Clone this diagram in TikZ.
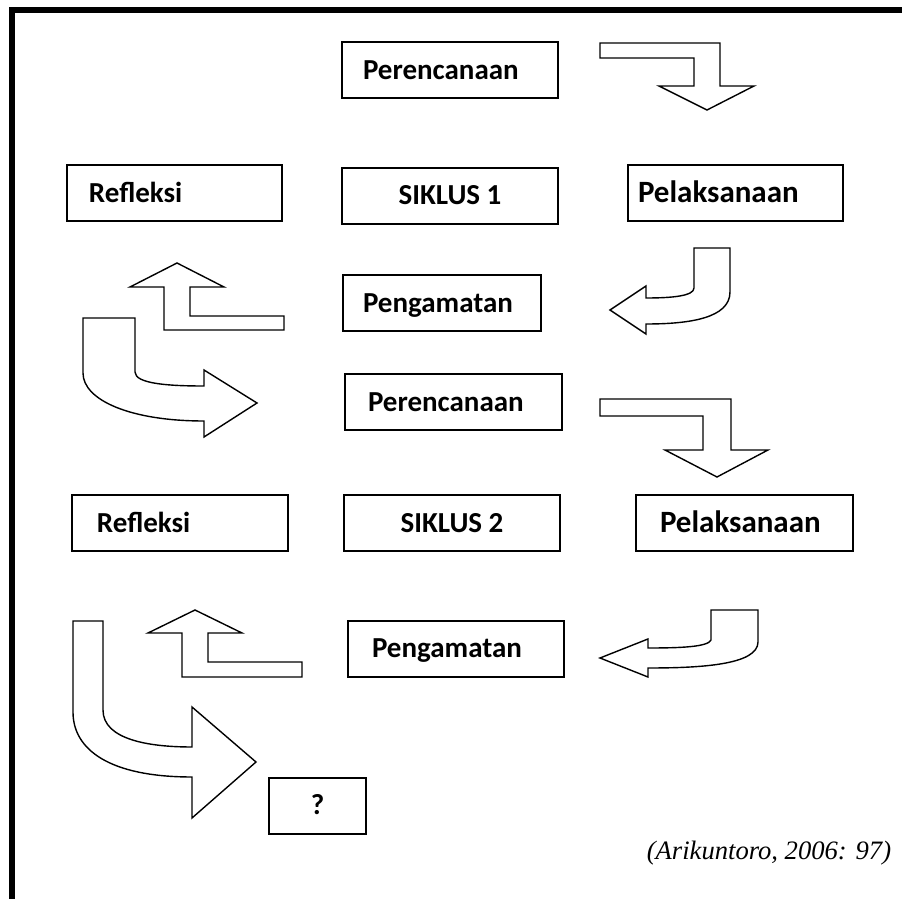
\documentclass[tikz,border=0pt]{standalone}
\usepackage{fontspec}
\setmainfont{Carlito}
\newfontfamily\citefont{Liberation Serif}

\begin{document}
\begin{tikzpicture}[x=0.5pt,y=-0.5pt]
\tikzset{KotakStyle/.style =
	{draw,
		line width = 1pt,
		minimum height = 28pt,
		align = left,
		text height = 1.0em,
		text depth = 0.1em,
		font = \fontsize{14.5}{17}\selectfont\bfseries},
	LebarStyle/.style =
	{font = \fontsize{15.5}{18}\selectfont\bfseries},
	PanahStyle/.style =
	{draw,
		line width = 0.7pt,
		line join = miter}}
\useasboundingbox (0,0) rectangle (902,899);
% bingkai
\draw[line width=3pt] (12,899) -- (12,10) -- (902,10);

% siklus 1
\node[KotakStyle, inner xsep=10.5pt, text width=87pt] (Ren1) at (450,70.5) {Perencanaan};
\node[KotakStyle, minimum width=108pt, align=center] (Sik1) at (450,196) {SIKLUS 1};
\node[KotakStyle, inner xsep=11pt, text width=85.5pt] (Ref1) at (174.5,193.5) {Refleksi};
\node[KotakStyle, LebarStyle, inner xsep=5pt, text width=97.5pt] (Pel1) at (735.5,193.5) {Pelaksanaan};
\node[KotakStyle, inner xsep=10pt, text width=79pt] (Pen1) at (442,303.5) {Pengamatan};

% siklus 2
\node[KotakStyle, inner xsep=11.5pt, text width=85.5pt] (Ren2) at (453.5,402.5) {Perencanaan};
\node[KotakStyle, minimum width=108pt, align=center] (Sik2) at (452,523.5) {SIKLUS 2};
\node[KotakStyle, inner xsep=12.5pt, text width=83pt] (Ref2) at (180,523.5) {Refleksi};
\node[KotakStyle, LebarStyle, inner xsep=12pt, text width=84.5pt] (Pel2) at (744.5,523.5) {Pelaksanaan};
\node[KotakStyle, inner xsep=12pt, text width=84pt] (Pen2) at (456,649) {Pengamatan};
\node[KotakStyle, minimum width=48.5pt, align=center] (Tny) at (317.5,806) {?};

\node[font=\citefont\itshape\fontsize{13.3}{16}\selectfont] (Sumber) at (769,853) {(Arikuntoro, 2006: 97)};

% panah siklus 1
\draw[PanahStyle] (600,43) -- (720,43) -- (720,86) -- (754,86) -- (707,110)
	-- (659,86) -- (694,86) -- (694,58) -- (600,58) -- cycle;
\draw[PanahStyle] (694,248) -- (730,248) -- (730,292)
	.. controls (730,318) and (690,324) .. (646,324) -- (646,334) -- (610,310)
	-- (646,286) -- (646,298) .. controls (672,298) and (694,296) .. (694,288) -- cycle;
\draw[PanahStyle] (177,263) -- (224,287) -- (190,287) -- (190,316) -- (284,316)
	-- (284,330) -- (164,330) -- (164,287) -- (130,287) -- cycle;
\draw[PanahStyle] (83,318) -- (135,318) -- (135,372)
	.. controls (135,384) and (170,386) .. (204,386) -- (204,370) -- (257,403)
	-- (204,437) -- (204,421) .. controls (130,421) and (83,400) .. (83,373) -- cycle;

% panah siklus 2
\draw[PanahStyle] (600,399) -- (731,399) -- (731,450) -- (768,450) -- (717,477)
	-- (665,450) -- (703,450) -- (703,416) -- (600,416) -- cycle;
\draw[PanahStyle] (711,610) -- (758,610) -- (758,642)
	.. controls (758,665) and (700,668) .. (648,668) -- (648,677) -- (600,658)
	-- (648,639) -- (648,648) .. controls (680,648) and (708,647) .. (711,640) -- cycle;
\draw[PanahStyle] (195,610) -- (242,633) -- (208,633) -- (208,662) -- (302,662)
	-- (302,677) -- (182,677) -- (182,633) -- (148,633) -- cycle;
\draw[PanahStyle] (73,621) -- (103,621) -- (103,710)
	.. controls (103,740) and (150,747) .. (192,747) -- (192,707) -- (256,762)
	-- (192,818) -- (192,777) .. controls (110,777) and (73,750) .. (73,712) -- cycle;
\end{tikzpicture}
\end{document}
